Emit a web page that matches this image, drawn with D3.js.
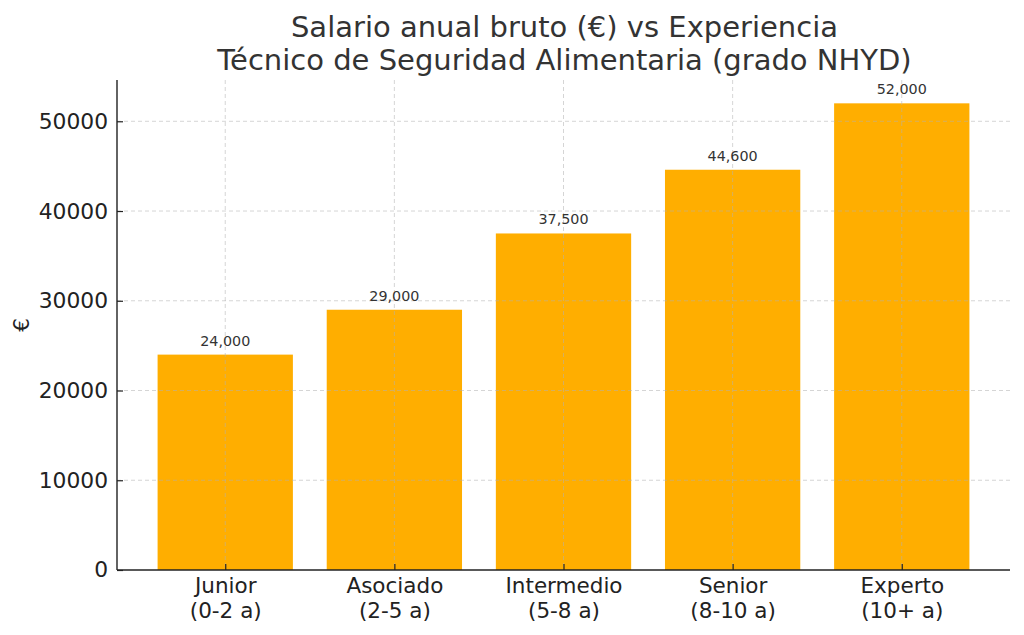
<!DOCTYPE html>
<html><head><meta charset="utf-8">
<script src="https://cdn.jsdelivr.net/npm/d3@7"></script>
<style>body{margin:0;background:#fff}svg{display:block}text{font-family:"DejaVu Sans",sans-serif}</style>
</head><body><svg id="c" width="1024" height="635"></svg>
<script>
const categories = ["Junior\n(0-2 a)","Asociado\n(2-5 a)","Intermedio\n(5-8 a)","Senior\n(8-10 a)","Experto\n(10+ a)"];
const salaries = [24000, 29000, 37500, 44600, 52000];
const yTicks = [0, 10000, 20000, 30000, 40000, 50000];
const titleLines = ["Salario anual bruto (€) vs Experiencia","Técnico de Seguridad Alimentaria (grado NHYD)"];
const yLabel = "€";

const FONT = "DejaVu Sans";
const svg = d3.select("#c");
const L = 117, R = 1010, T = 80, B = 570;
const n = categories.length;
const x = d3.scaleLinear().domain([-0.64, n - 1 + 0.64]).range([L, R]);
const ymax = d3.max(salaries) * 1.05;
const y = d3.scaleLinear().domain([0, ymax]).range([B, T]);
const bw = x(0.8) - x(0);

// bars
svg.append("g").selectAll("rect").data(salaries).join("rect")
  .attr("x", (d,i) => x(i) - bw/2).attr("width", bw)
  .attr("y", d => y(d)).attr("height", d => B - y(d))
  .attr("fill", "#FFAE00");

// grid
const grid = svg.append("g").attr("stroke", "#b0b0b0").attr("stroke-opacity", 0.6)
  .attr("stroke-dasharray", "4,3").attr("stroke-width", 0.9);
grid.selectAll("line.h").data(yTicks.filter(d => d > 0)).join("line")
  .attr("x1", L).attr("x2", R).attr("y1", d => y(d)).attr("y2", d => y(d));
grid.selectAll("line.v").data(d3.range(n)).join("line")
  .attr("y1", T).attr("y2", B).attr("x1", d => x(d)).attr("x2", d => x(d));

// value labels
svg.append("g").selectAll("text").data(salaries).join("text")
  .attr("x", (d,i) => x(i)).attr("y", d => y(d) - 9)
  .attr("text-anchor", "middle").attr("font-size", 14.3).attr("fill", "#333").attr("font-family", FONT)
  .text(d => d3.format(",")(d));

// axes (ticks pointing inward)
const yAxis = d3.axisLeft(y).tickValues(yTicks).tickFormat(d3.format("d")).tickSizeInner(-6).tickSizeOuter(0).tickPadding(9);
const gy = svg.append("g").attr("transform", `translate(${L},0)`).call(yAxis).attr("font-family", FONT);
gy.select(".domain").attr("stroke", "#222").attr("stroke-width", 1.4).attr("d", `M0,${T}V${B}`);
gy.selectAll(".tick line").attr("stroke", "#222").attr("stroke-width", 1.2);
gy.selectAll(".tick text").attr("font-size", 21.8).attr("fill", "#222").attr("font-family", FONT);

const xAxis = d3.axisBottom(x).tickValues(d3.range(n)).tickFormat("").tickSizeInner(-6).tickSizeOuter(0);
const gx = svg.append("g").attr("transform", `translate(0,${B})`).call(xAxis).attr("font-family", FONT);
gx.select(".domain").attr("stroke", "#222").attr("stroke-width", 1.4).attr("d", `M${L},0H${R}`);
gx.selectAll(".tick line").attr("stroke", "#222").attr("stroke-width", 1.2);
gx.selectAll(".tick text").remove();
gx.selectAll(".tick").append("text").attr("text-anchor", "middle").attr("font-size", 21.5).attr("fill", "#222")
  .attr("font-family", FONT)
  .selectAll("tspan").data(i => categories[i].split("\n")).join("tspan")
  .attr("x", 0).attr("y", (d,j) => 23 + j * 24.5).text(d => d);

// y label
svg.append("text").attr("transform", "translate(29,325) rotate(-90)").attr("text-anchor", "middle")
  .attr("font-size", 21.5).attr("fill", "#222").attr("font-family", FONT).text(yLabel);

// title
svg.append("text").attr("text-anchor", "middle").attr("font-size", 29).attr("fill", "#333")
  .attr("font-family", FONT)
  .selectAll("tspan").data(titleLines).join("tspan")
  .attr("x", (L + R) / 2 + 1).attr("y", (d,i) => 36.5 + i * 33).text(d => d);
</script></body></html>
